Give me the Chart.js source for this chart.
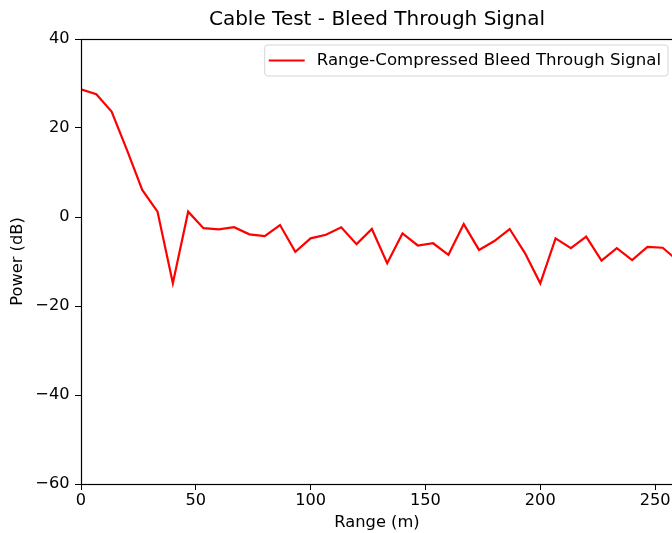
<!DOCTYPE html>
<html>
<head>
<meta charset="utf-8">
<script src="https://cdn.jsdelivr.net/npm/chart.js@4"></script>
<style>
  html, body { margin: 0; padding: 0; background: #fff; overflow: hidden; width: 672px; height: 533px; }
  canvas { display: block; }
</style>
</head>
<body>
<canvas id="chart" width="680" height="533"></canvas>
<script>
// Range bins (m) and range-compressed bleed-through power (dB)
const rangeM = [0, 6.67, 13.33, 20, 26.67, 33.33, 40, 46.67, 53.33, 60,
  66.67, 73.33, 80, 86.67, 93.33, 100, 106.67, 113.33, 120, 126.67,
  133.33, 140, 146.67, 153.33, 160, 166.67, 173.33, 180, 186.67, 193.33,
  200, 206.67, 213.33, 220, 226.67, 233.33, 240, 246.67, 253.33, 260];
const powerDb = [28.7, 27.6, 23.7, 15.1, 6.1, 1.2, -14.9, 1.2, -2.5, -2.8,
  -2.3, -3.9, -4.3, -1.8, -7.8, -4.8, -4.0, -2.3, -6.1, -2.7,
  -10.4, -3.7, -6.4, -5.9, -8.5, -1.6, -7.4, -5.4, -2.7, -8.1,
  -14.9, -4.8, -7.0, -4.4, -9.8, -7.0, -9.7, -6.7, -6.9, -9.9];

const xTicks = [0, 50, 100, 150, 200, 250];
const yTicks = [-60, -40, -20, 0, 20, 40];

const chartTitle = 'Cable Test - Bleed Through Signal';
const seriesLabel = 'Range-Compressed Bleed Through Signal';
const xTitle = 'Range (m)';
const yTitle = 'Power (dB)';

const FONT = 'DejaVu Sans';

// Axes frame (all four spines)
const framePlugin = {
  id: 'frame',
  afterDatasetsDraw(chart) {
    const { ctx, chartArea: a } = chart;
    ctx.save();
    ctx.strokeStyle = '#000';
    ctx.lineWidth = 1.2;
    ctx.strokeRect(Math.round(a.left) + 0.5, Math.round(a.top) + 0.5,
      Math.round(a.right - a.left), Math.round(a.bottom - a.top));
    ctx.restore();
  }
};

// Legend box drawn inside the axes, upper right
const innerLegend = {
  id: 'innerLegend',
  afterDatasetsDraw(chart) {
    const { ctx, chartArea: a } = chart;
    const ds = chart.data.datasets[0];
    ctx.save();
    ctx.font = '16.6px "' + FONT + '"';
    const tw = ctx.measureText(ds.label).width;
    const w = 52 + tw + 7;
    const h = 31;
    const x = a.right - 5 - w;
    const y = a.top + 6;
    const r = 3;
    ctx.beginPath();
    ctx.moveTo(x + r, y);
    ctx.arcTo(x + w, y, x + w, y + h, r);
    ctx.arcTo(x + w, y + h, x, y + h, r);
    ctx.arcTo(x, y + h, x, y, r);
    ctx.arcTo(x, y, x + w, y, r);
    ctx.closePath();
    ctx.fillStyle = 'rgba(255,255,255,0.8)';
    ctx.fill();
    ctx.strokeStyle = '#d6d6d6';
    ctx.lineWidth = 1;
    ctx.stroke();
    const cy = y + h / 2;
    ctx.beginPath();
    ctx.moveTo(x + 4, cy);
    ctx.lineTo(x + 40, cy);
    ctx.strokeStyle = ds.borderColor;
    ctx.lineWidth = ds.borderWidth;
    ctx.stroke();
    ctx.fillStyle = '#000';
    ctx.textBaseline = 'middle';
    ctx.textAlign = 'left';
    ctx.fillText(ds.label, x + 52, cy);
    ctx.restore();
  }
};

new Chart(document.getElementById('chart'), {
  type: 'line',
  data: {
    datasets: [{
      label: seriesLabel,
      data: rangeM.map((r, i) => ({ x: r, y: powerDb[i] })),
      borderColor: '#ff0000',
      borderWidth: 2.2,
      pointRadius: 0,
      tension: 0,
      fill: false
    }]
  },
  options: {
    responsive: false,
    animation: false,
    devicePixelRatio: 1,
    layout: { padding: { left: 0, right: 7, top: 0, bottom: 0 } },
    plugins: {
      legend: { display: false },
      tooltip: { enabled: false },
      title: {
        display: true,
        text: chartTitle,
        fullSize: false,
        color: '#000',
        font: { family: FONT, size: 20, weight: 'normal' },
        padding: { top: 7.5, bottom: 7.5 }
      }
    },
    scales: {
      x: {
        type: 'linear',
        min: 0,
        max: 257.8,
        afterFit(s) { s.height = 49; },
        afterBuildTicks(s) { s.ticks = xTicks.map(v => ({ value: v })); },
        border: { display: false },
        grid: { drawOnChartArea: false, drawTicks: true, tickLength: 6, color: '#000', lineWidth: 1 },
        ticks: {
          color: '#000',
          padding: 1.5,
          maxRotation: 0,
          autoSkip: false,
          font: { family: FONT, size: 16.2 }
        },
        title: {
          display: true,
          text: xTitle,
          color: '#000',
          font: { family: FONT, size: 16.3 },
          padding: { top: 0, bottom: 0.4 }
        }
      },
      y: {
        type: 'linear',
        min: -60,
        max: 40,
        afterFit(s) { s.width = 81; },
        afterBuildTicks(s) { s.ticks = yTicks.map(v => ({ value: v })); },
        border: { display: false },
        grid: { drawOnChartArea: false, drawTicks: true, tickLength: 6, color: '#000', lineWidth: 1 },
        ticks: {
          color: '#000',
          padding: 5.5,
          autoSkip: false,
          font: { family: FONT, size: 16.2 },
          callback: v => String(v).replace('-', '\u2212')
        },
        title: {
          display: true,
          text: yTitle,
          color: '#000',
          font: { family: FONT, size: 16.3 },
          padding: { top: 8.2, bottom: 0 }
        }
      }
    }
  },
  plugins: [framePlugin, innerLegend]
});
</script>
</body>
</html>
